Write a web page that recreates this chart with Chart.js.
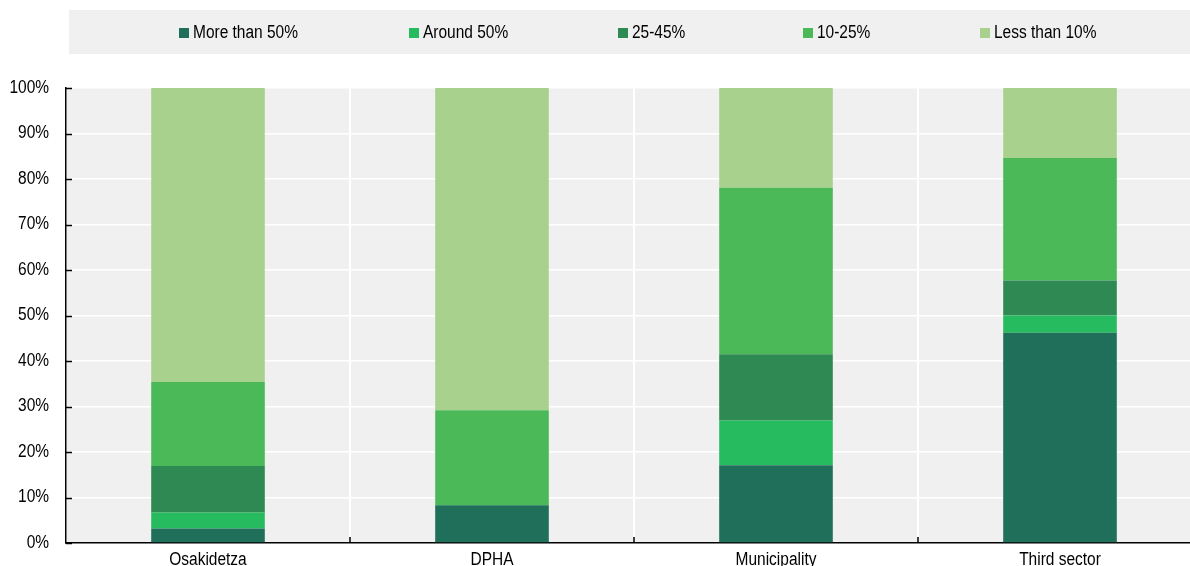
<!DOCTYPE html>
<html lang="en">
  <head>
    <title>Share of time by organisation</title>
    <meta charset="UTF-8" />
    <script src="https://cdn.jsdelivr.net/npm/chart.js@4.4.1/dist/chart.umd.min.js"></script>
    <style>
      html, body { margin: 0; padding: 0; background: #fff; overflow: hidden; }
      canvas { display: block; }
    </style>
  </head>

  <body>
    <canvas id="chart" width="1202" height="566"></canvas>

    <script>
      const categories = ['Osakidetza', 'DPHA', 'Municipality', 'Third sector']
      const seriesNames = ['More than 50%', 'Around 50%', '25-45%', '10-25%', 'Less than 10%']
      const moreThan50 = [3.2, 8.3, 17.1, 46.2]
      const around50 = [3.5, 0, 9.8, 3.8]
      const between25and45 = [10.2, 0, 14.6, 7.7]
      const between10and25 = [18.5, 20.9, 36.6, 26.9]
      const lessThan10 = [64.6, 70.8, 22.0, 15.4]
      const yTickValues = [0, 10, 20, 30, 40, 50, 60, 70, 80, 90, 100]

      const colors = ['#1f6f5a', '#25bb5e', '#2e8a52', '#4bb958', '#a9d18e']
      // the source uses a narrow Arial; squeeze Liberation Sans to get the same look
      const FONT = "18px 'Liberation Sans', Arial, sans-serif"
      const SQUEEZE = 0.86
      const LEGEND_X = [179, 409, 618, 803, 980]

      const seriesValues = [moreThan50, around50, between25and45, between10and25, lessThan10]
      const datasets = seriesNames.map((name, i) => ({
        label: name,
        data: seriesValues[i],
        backgroundColor: colors[i],
        borderWidth: 0,
        barPercentage: 0.4,
        categoryPercentage: 1,
      }))

      const narrowText = (ctx, text, x, y, align, baseline) => {
        ctx.save()
        ctx.translate(x, y)
        ctx.scale(SQUEEZE, 1)
        ctx.textAlign = align
        ctx.textBaseline = baseline
        ctx.fillText(text, 0, 0)
        ctx.restore()
      }

      const decorations = {
        id: 'decorations',
        beforeDraw(chart) {
          const { ctx, chartArea } = chart
          ctx.save()
          ctx.fillStyle = '#f0f0f0'
          ctx.fillRect(chartArea.left, chartArea.top, chartArea.right - chartArea.left, chartArea.bottom - chartArea.top)
          // legend strip
          ctx.fillRect(69, 10, chart.width - 69, 44)
          ctx.restore()
        },
        afterDraw(chart) {
          const { ctx, chartArea } = chart
          const x = chart.scales.x
          const y = chart.scales.y
          ctx.save()

          // small inward tick marks
          ctx.strokeStyle = '#000'
          ctx.lineWidth = 1.5
          ctx.beginPath()
          yTickValues.forEach((v) => {
            const py = Math.round(y.getPixelForValue(v)) + 0.5
            ctx.moveTo(chartArea.left, py)
            ctx.lineTo(chartArea.left + 6, py)
          })
          for (let i = 1; i < categories.length; i++) {
            const px = Math.round((x.getPixelForValue(i - 1) + x.getPixelForValue(i)) / 2)
            ctx.moveTo(px, chartArea.bottom)
            ctx.lineTo(px, chartArea.bottom - 6)
          }
          ctx.stroke()

          // tick labels
          ctx.font = FONT
          ctx.fillStyle = '#000'
          yTickValues.forEach((v) => {
            narrowText(ctx, v + '%', chartArea.left - 17, y.getPixelForValue(v), 'right', 'middle')
          })
          chart.data.labels.forEach((label, i) => {
            narrowText(ctx, label, x.getPixelForValue(i), chartArea.bottom + 22, 'center', 'alphabetic')
          })

          // legend
          chart.data.datasets.forEach((ds, i) => {
            ctx.fillStyle = ds.backgroundColor
            ctx.fillRect(LEGEND_X[i], 28, 10, 10)
            ctx.fillStyle = '#000'
            narrowText(ctx, ds.label, LEGEND_X[i] + 14, 38, 'left', 'alphabetic')
          })
          ctx.restore()
        },
      }

      new Chart(document.getElementById('chart'), {
        type: 'bar',
        data: { labels: categories, datasets: datasets },
        options: {
          responsive: false,
          animation: false,
          devicePixelRatio: 1,
          layout: { padding: { top: 88, left: 0, right: 0, bottom: 0 } },
          scales: {
            x: {
              stacked: true,
              grid: { offset: true, color: '#fff', lineWidth: 2, drawTicks: false },
              border: { color: '#000', width: 1.5 },
              ticks: { display: false },
              afterFit: (scale) => { scale.height = 23 },
            },
            y: {
              stacked: true,
              min: 0,
              max: 100,
              afterBuildTicks: (scale) => {
                scale.ticks = yTickValues.map((v) => ({ value: v }))
              },
              grid: { color: '#fff', lineWidth: 1.5, drawTicks: false },
              border: { color: '#000', width: 1.5 },
              ticks: { display: false },
              afterFit: (scale) => { scale.width = 66 },
            },
          },
          plugins: {
            legend: { display: false },
            tooltip: { enabled: false },
          },
        },
        plugins: [decorations],
      })
    </script>
  </body>
</html>
